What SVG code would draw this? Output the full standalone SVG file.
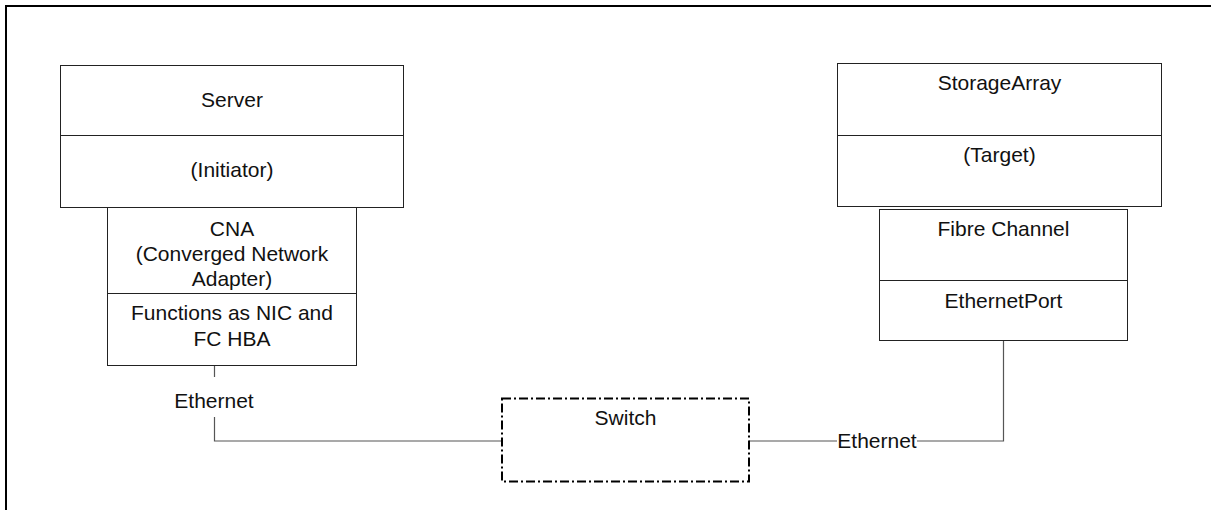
<svg xmlns="http://www.w3.org/2000/svg" width="1211" height="510" viewBox="0 0 1211 510">
<style>
.box{fill:#fff;stroke:#222;stroke-width:1}
.div{stroke:#222;stroke-width:1}
.conn{fill:none;stroke:#555;stroke-width:1.2}
text{font-family:"Liberation Sans",Arial,sans-serif;font-size:21px;fill:#111;text-anchor:middle}
</style>
<rect x="0" y="0" width="1211" height="510" fill="#fff"/>
<rect x="6" y="6" width="1220" height="520" fill="none" stroke="#000" stroke-width="2"/>
<g id="connectors">
<path class="conn" d="M214.5 365 V377 M214.5 417 V441 H502"/>
<path class="conn" d="M749 441 H837 M917 441 H1003.5 V341"/>
<text x="214" y="408">Ethernet</text>
<text x="877" y="448">Ethernet</text>
</g>
<g id="server">
<rect class="box" x="60.5" y="65.5" width="343" height="142"/>
<line class="div" x1="60.5" y1="135.5" x2="403.5" y2="135.5"/>
<text x="232" y="107">Server</text>
<text x="232" y="177">(Initiator)</text>
</g>
<g id="cna">
<rect class="box" x="107.5" y="207.5" width="249" height="158"/>
<line class="div" x1="107.5" y1="293.5" x2="356.5" y2="293.5"/>
<text x="232" y="236">CNA</text>
<text x="232" y="261">(Converged Network</text>
<text x="232" y="286">Adapter)</text>
<text x="232" y="320">Functions as NIC and</text>
<text x="232" y="346">FC HBA</text>
</g>
<g id="switch">
<rect x="502" y="398.5" width="247" height="83" fill="#fff" stroke="#000" stroke-width="2" stroke-dasharray="9,3,2,3"/>
<text x="625.5" y="425">Switch</text>
</g>
<g id="storage">
<rect class="box" x="837.5" y="63.5" width="324" height="143"/>
<line class="div" x1="837.5" y1="135.5" x2="1161.5" y2="135.5"/>
<text x="999.5" y="90">StorageArray</text>
<text x="999.5" y="162">(Target)</text>
</g>
<g id="fc">
<rect class="box" x="879.5" y="209.5" width="248" height="131"/>
<line class="div" x1="879.5" y1="280.5" x2="1127.5" y2="280.5"/>
<text x="1003.5" y="236">Fibre Channel</text>
<text x="1003.5" y="308">EthernetPort</text>
</g>
</svg>
